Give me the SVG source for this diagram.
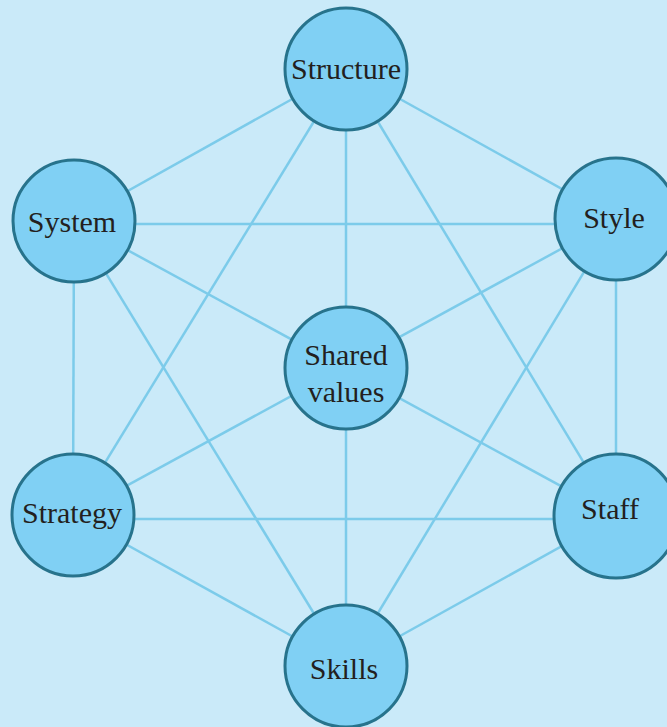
<svg xmlns="http://www.w3.org/2000/svg" width="667" height="727" viewBox="0 0 667 727">
<defs>
<style>
.bg{fill:#caeaf9}
.edge{stroke:#7ccbea;stroke-width:2.5;fill:none}
.node circle{fill:#80d0f4;stroke:#27738c;stroke-width:3}
.node text{font-family:"Liberation Serif","Times New Roman",serif;font-size:30px;fill:#231f20;text-anchor:middle}
</style>
</defs>
<rect class="bg" x="0" y="0" width="667" height="727"/>
<g id="connectors">
<line class="edge" x1="346" y1="69" x2="616" y2="219"/>
<line class="edge" x1="616" y1="219" x2="616" y2="516"/>
<line class="edge" x1="616" y1="516" x2="346" y2="666"/>
<line class="edge" x1="346" y1="666" x2="73" y2="515"/>
<line class="edge" x1="73" y1="515" x2="74" y2="221"/>
<line class="edge" x1="74" y1="221" x2="346" y2="69"/>
<line class="edge" x1="346" y1="69" x2="73" y2="515"/>
<line class="edge" x1="346" y1="69" x2="616" y2="516"/>
<line class="edge" x1="74" y1="224" x2="616" y2="224"/>
<line class="edge" x1="73" y1="519" x2="616" y2="519"/>
<line class="edge" x1="74" y1="221" x2="346" y2="666"/>
<line class="edge" x1="616" y1="219" x2="346" y2="666"/>
<line class="edge" x1="346" y1="69" x2="346" y2="666"/>
<line class="edge" x1="74" y1="221" x2="616" y2="516"/>
<line class="edge" x1="616" y1="219" x2="73" y2="515"/>
</g>
<g id="structure" class="node"><circle cx="346" cy="69" r="61"/><text x="346" y="79">Structure</text></g>
<g id="system" class="node"><circle cx="74" cy="221" r="61"/><text x="72" y="232">System</text></g>
<g id="style" class="node"><circle cx="616" cy="219" r="61"/><text x="614" y="228">Style</text></g>
<g id="shared-values" class="node"><circle cx="346" cy="368" r="61"/><text x="346" y="365">Shared</text><text x="346" y="402">values</text></g>
<g id="strategy" class="node"><circle cx="73" cy="515" r="61"/><text x="72" y="523">Strategy</text></g>
<g id="staff" class="node"><circle cx="616" cy="516" r="62"/><text x="610" y="519">Staff</text></g>
<g id="skills" class="node"><circle cx="346" cy="666" r="61"/><text x="344" y="679">Skills</text></g>
</svg>
